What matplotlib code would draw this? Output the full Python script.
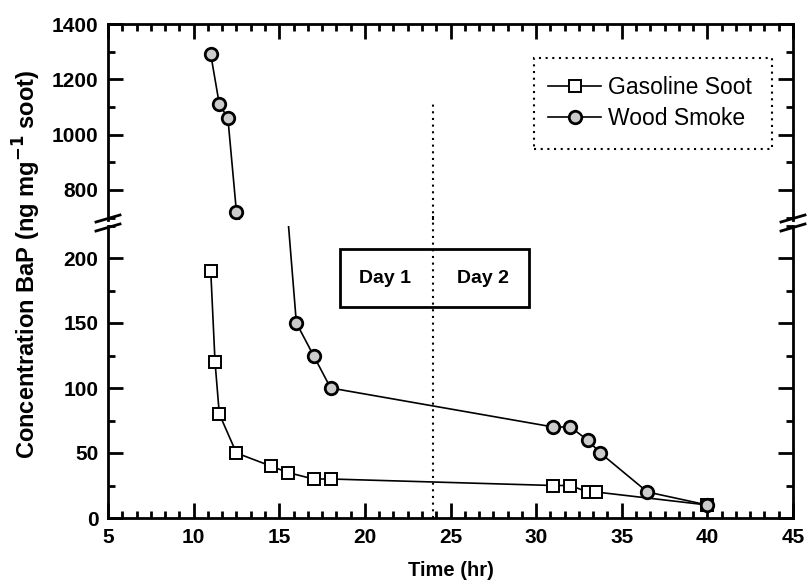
import matplotlib
matplotlib.use("Agg")
import matplotlib.pyplot as plt
from matplotlib.ticker import MultipleLocator, AutoMinorLocator
from matplotlib.lines import Line2D
from matplotlib.patches import Rectangle

plt.rcParams['font.family'] = ['Liberation Sans', 'DejaVu Sans']

# Time (hr) and BaP concentration (ng/mg soot)
gas_time = [11, 11.25, 11.5, 12.5, 14.5, 15.5, 17, 18, 31, 32, 33, 33.5, 40]
gas_conc = [190, 120, 80, 50, 40, 35, 30, 30, 25, 25, 20, 20, 10]
wood_time = [11, 11.5, 12, 12.5, 16, 17, 18, 31, 32, 33, 33.75, 36.5, 40]
wood_conc = [1290, 1110, 1060, 720, 150, 125, 100, 70, 70, 60, 50, 20, 10]
day_split = 24
x_range = (5, 45)
low_range = (0, 225)
high_range = (690, 1400)

W, H = 807, 586
fig = plt.figure(figsize=(W / 100, H / 100), dpi=100)

left, right = 108 / W, 793 / W
ax_hi = fig.add_axes([left, 1 - 220.3 / H, right - left, (220.3 - 24) / H])
ax_lo = fig.add_axes([left, 1 - 518 / H, right - left, (518 - 225.5) / H], sharex=ax_hi)

def draw_series(ax):
    ax.plot(gas_time, gas_conc, color='black', lw=1.2, marker='s', ms=8,
            mfc='white', mec='black', mew=1.4, label='Gasoline Soot')
    ax.plot(wood_time, wood_conc, color='black', lw=1.2, marker='o', ms=9,
            mfc='#cccccc', mec='black', mew=2.0, label='Wood Smoke')

for ax in (ax_hi, ax_lo):
    draw_series(ax)
    ax.set_xlim(*x_range)
    for s in ax.spines.values():
        s.set_linewidth(2)
    ax.tick_params(which='both', direction='in', top=True, right=True,
                   width=2, labelsize=15)
    ax.tick_params(which='major', length=11)
    ax.tick_params(which='minor', length=5)
    ax.xaxis.set_major_locator(MultipleLocator(5))
    ax.xaxis.set_minor_locator(AutoMinorLocator(6))

ax_hi.set_ylim(*high_range)
ax_hi.yaxis.set_major_locator(MultipleLocator(200))
ax_hi.yaxis.set_minor_locator(MultipleLocator(100))
ax_hi.spines['bottom'].set_visible(False)
ax_hi.tick_params(which='both', bottom=False, labelbottom=False)

ax_lo.set_ylim(*low_range)
ax_lo.yaxis.set_major_locator(MultipleLocator(50))
ax_lo.yaxis.set_minor_locator(MultipleLocator(25))
ax_lo.spines['top'].set_visible(False)
ax_lo.tick_params(which='both', top=False)
ax_lo.tick_params(axis='y', pad=7)
ax_hi.tick_params(axis='y', pad=7)
ax_lo.tick_params(axis='x', pad=7)

for ax in (ax_hi, ax_lo):
    for lbl in ax.get_yticklabels() + ax.get_xticklabels():
        lbl.set_fontweight('bold')

# day boundary
ax_lo.plot([day_split, day_split], [0, 232], color='black', lw=1.5,
           ls=(0, (1, 2.2)), clip_on=False)
ax_hi.plot([day_split, day_split], [690, 1120], color='black', lw=1.5,
           ls=(0, (1, 2.2)))

# Day 1 / Day 2 box
ax_lo.add_patch(Rectangle((18.55, 162), 29.58 - 18.55, 207 - 162, fill=False,
                          lw=2, ec='black', zorder=3))
ax_lo.text(21.2, 184, 'Day 1', ha='center', va='center', fontsize=14,
           fontweight='bold')
ax_lo.text(26.9, 184, 'Day 2', ha='center', va='center', fontsize=14,
           fontweight='bold')

# legend with dotted frame
ax_hi.add_patch(Rectangle((0.622, 0.363), 0.969 - 0.622, 0.827 - 0.363,
                          transform=ax_hi.transAxes, fill=False, lw=1.5,
                          ls=(0, (1, 2.2)), ec='black'))
leg = ax_hi.legend(loc='center left', bbox_to_anchor=(0.626, 0.598),
                   frameon=False, fontsize=16.5, handlelength=2.3,
                   handletextpad=0.3, labelspacing=0.35, borderpad=0)

# axis break marks on both spines
y_break = 1 - 223 / H
for xb in (left, right):
    for dy in (-4.5, 4.5):
        yc = y_break + dy / H
        fig.add_artist(Line2D([xb - 12 / W, xb + 12 / W],
                              [yc - 3.5 / H, yc + 3.5 / H],
                              color='black', lw=2))

fig.text(0.5 * (left + right), 1 - 570 / H, 'Time (hr)', ha='center',
         va='center', fontsize=14.5, fontweight='bold')
fig.text(27 / W, 1 - 264 / H, 'Concentration BaP (ng mg$^{\\mathbf{-1}}$ soot)',
         rotation=90, ha='center', va='center', fontsize=17, fontweight='bold')

fig.savefig('out.png', dpi=100)
